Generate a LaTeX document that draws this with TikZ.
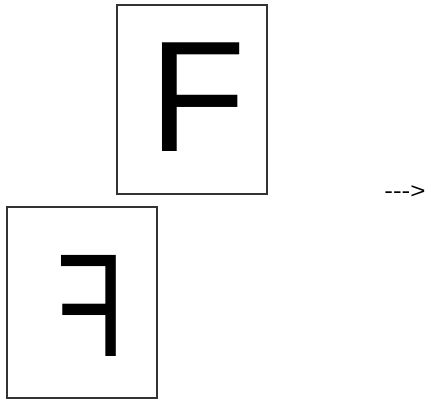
\documentclass[tikz,border=0pt]{standalone}
\usepackage{fontspec}
\setmainfont{Liberation Sans}
\begin{document}
\begin{tikzpicture}[x=1pt,y=-1pt,
  frame/.style={draw=black!80,line width=1.3pt},
  bigf/.style={inner sep=0pt,font=\fontsize{158}{158}\selectfont}]
\useasboundingbox (0,0) rectangle (436,400);
\node[frame,minimum width=150pt,minimum height=189pt,inner sep=0pt] (top) at (192,99.5) {};
\node[frame,minimum width=150pt,minimum height=191pt,inner sep=0pt] (bot) at (82,302.5) {};
\node[bigf,anchor=base west] (f1) at (149.2,151) {F};
\node[bigf,anchor=base west,xscale=-0.71,yscale=0.93,transform shape] (f2) at (126.1,356) {F};
\node[inner sep=0pt,font=\fontsize{22}{22}\selectfont,xscale=1.18,transform shape] (arr) at (405,192) {-{}-{}->};
\end{tikzpicture}
\end{document}
